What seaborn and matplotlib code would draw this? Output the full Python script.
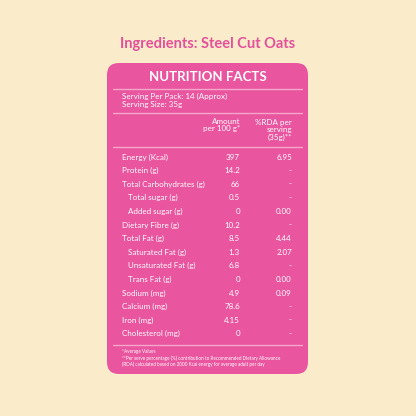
import matplotlib
matplotlib.use("Agg")
import matplotlib.pyplot as plt
import seaborn as sns
from matplotlib.patches import FancyBboxPatch

sns.set_theme(style="white")
plt.rcParams['font.family'] = ['Lato', 'DejaVu Sans']

title = "Ingredients: Steel Cut Oats"
nutrients = ["Energy (Kcal)", "Protein (g)", "Total Carbohydrates (g)", "Total sugar (g)",
             "Added sugar (g)", "Dietary Fibre (g)", "Total Fat (g)", "Saturated Fat (g)",
             "Unsaturated Fat (g)", "Trans Fat (g)", "Sodium (mg)", "Calcium (mg)",
             "Iron (mg)", "Cholesterol (mg)"]
indented = [False, False, False, True, True, False, False, True, True, True, False, False, False, False]
amounts = ["397", "14.2", "66", "0.5", "0", "10.2", "8.5", "1.3", "6.8", "0", "4.9", "78.6", "4.15", "0"]
rda = ["6.95", "-", "-", "-", "0.00", "-", "4.44", "2.07", "-", "0.00", "0.09", "-", "-", "-"]

BG = "#FAEBCB"; PINK = "#EA559F"; TITLE = "#E4509A"; LINE = "#F4A6CB"; W = "white"

fig = plt.figure(figsize=(4.16, 4.16), dpi=100, facecolor=BG)
ax = fig.add_axes([0, 0, 1, 1])
ax.set_xlim(0, 416); ax.set_ylim(416, 0); ax.axis("off")
ax.set_facecolor(BG)

ax.text(208, 44, title, ha="center", va="center", color=TITLE, fontsize=10.5, fontweight="bold")
ax.add_patch(FancyBboxPatch((107, 63), 201, 311, boxstyle="round,pad=0,rounding_size=12",
                            fc=PINK, ec="none"))
ax.text(208, 77, "NUTRITION FACTS", ha="center", va="center", color=W, fontsize=9.5, fontweight="bold")
for y in (89, 113, 147, 345):
    ax.plot([113, 302], [y, y], color=LINE, lw=1)
ax.text(122, 96, "Serving Per Pack: 14 (Approx)", color=W, fontsize=5.8, va="center")
ax.text(122, 105, "Serving Size: 35g", color=W, fontsize=5.8, va="center")
ax.text(240, 125, "Amount\nper 100 g*", color=W, fontsize=5.8, va="center", ha="right", linespacing=1.0)
ax.text(292, 130, "%RDA per\nserving\n(35g)**", color=W, fontsize=5.8, va="center", ha="right", linespacing=1.0)

for i, (n, ind, a, r) in enumerate(zip(nutrients, indented, amounts, rda)):
    y = 157 + i * 13.6
    ax.text(128 if ind else 122, y, n, color=W, fontsize=5.8, va="center")
    ax.text(240, y, a, color=W, fontsize=5.8, va="center", ha="right")
    if r == "-":
        ax.text(290, y, r, color=W, fontsize=5.8, va="center", ha="center")
    else:
        ax.text(292, y, r, color=W, fontsize=5.8, va="center", ha="right")

ax.text(122, 352, "*Average Values", color=W, fontsize=3.3, va="center")
ax.text(122, 358, "**Per serve percentage (%) contribution to Recommended Dietary Allowance", color=W, fontsize=3.3, va="center")
ax.text(122, 364, "(RDA) calculated based on 2000 Kcal energy for average adult per day", color=W, fontsize=3.3, va="center")

fig.savefig("out.png", dpi=100, facecolor=BG)
